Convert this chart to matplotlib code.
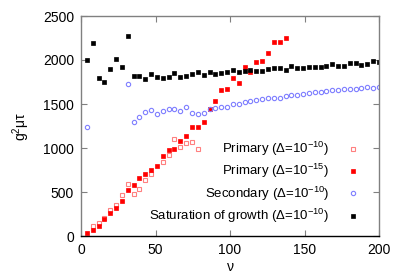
import numpy as np
import matplotlib
matplotlib.use("Agg")
import matplotlib.pyplot as plt

plt.rcParams['font.family'] = ['Liberation Sans', 'DejaVu Sans']
plt.rcParams['mathtext.fontset'] = 'custom'
plt.rcParams['mathtext.rm'] = 'Liberation Sans'
plt.rcParams['mathtext.it'] = 'Liberation Sans:italic'

nan = np.nan
nu = [3.92, 7.84, 11.76, 15.69, 19.61, 23.53, 27.45, 31.37, 35.29, 39.22,
      43.14, 47.06, 50.98, 54.9, 58.82, 62.75, 66.67, 70.59, 74.51, 78.43,
      82.35, 86.27, 90.2, 94.12, 98.04, 101.96, 105.88, 109.8, 113.73, 117.65,
      121.57, 125.49, 129.41, 133.33, 137.25, 141.18, 145.1, 149.02, 152.94, 156.86,
      160.78, 164.71, 168.63, 172.55, 176.47, 180.39, 184.31, 188.24, 192.16, 196.08,
      200.0]

primary_10 = [nan, 114, 148, 208, 300, 354, 470, 587, 481, 538,
              633, 699, nan, 839, 926, 1105, 1010, 1058, 1070, 990]

primary_15 = [34, 68, 117, 189, 265, 314, 401, 519, 583, 659,
              705, 750, 794, 908, 979, 984, 1078, 1134, 1239, 1239,
              1299, 1443, 1536, 1655, 1674, 1801, 1735, 1922, 1869, 1981,
              1994, 2076, 2201, 2201, 2246]

secondary_10 = [1242, nan, nan, nan, nan, nan, nan, 1731, 1299, 1356,
                1409, 1432, 1382, 1426, 1445, 1445, 1422, 1462, 1398, 1385,
                1394, 1443, 1458, 1466, 1470, 1496, 1504, 1523, 1530, 1549,
                1560, 1568, 1572, 1572, 1587, 1606, 1602, 1617, 1625, 1632,
                1640, 1648, 1659, 1655, 1670, 1670, 1670, 1685, 1689, 1685,
                1697]

saturation = [2000, 2197, 1792, 1746, 1901, 2015, 1920, 2276, 1818, 1818,
              1784, 1841, 1810, 1799, 1807, 1856, 1807, 1822, 1845, 1867,
              1833, 1864, 1845, 1848, 1867, 1890, 1860, 1871, 1886, 1879,
              1871, 1901, 1909, 1909, 1890, 1932, 1913, 1905, 1924, 1924,
              1917, 1932, 1955, 1932, 1932, 1966, 1966, 1939, 1958, 1992,
              1974]

labels = [r"Primary (Δ=10$^{\mathregular{-10}}$)",
          r"Primary (Δ=10$^{\mathregular{-15}}$)",
          r"Secondary (Δ=10$^{\mathregular{-10}}$)",
          r"Saturation of growth (Δ=10$^{\mathregular{-10}}$)"]

fig = plt.figure(figsize=(3.99, 2.79), dpi=100)
ax = fig.add_axes([81/399, 1-236/279, (379-81)/399, (236-16)/279])

ms = 3.3
ax.plot(nu[:len(primary_10)], primary_10, ls='none', marker='s', ms=ms,
        mfc='none', mec='#ff8080', mew=0.8, label=labels[0])
ax.plot(nu[:len(primary_15)], primary_15, ls='none', marker='s', ms=ms,
        mfc='#ff0000', mec='#ff0000', mew=0.5, label=labels[1])
ax.plot(nu[:len(secondary_10)], secondary_10, ls='none', marker='o', ms=3.1,
        mfc='none', mec='#7f7fff', mew=0.8, label=labels[2])
ax.plot(nu, saturation, ls='none', marker='s', ms=ms,
        mfc='black', mec='black', mew=0.5, label=labels[3])

ax.set_xlim(0, 200)
ax.set_ylim(0, 2500)
ax.set_xticks([0, 50, 100, 150, 200])
ax.set_yticks([0, 500, 1000, 1500, 2000, 2500])
ax.tick_params(direction='in', length=4, width=0.8, color='#808080',
               top=True, right=True, labelsize=10, pad=5)
for s in ax.spines.values():
    s.set_color('#808080')
    s.set_linewidth(1.0)
ax.spines['bottom'].set_color('black')

ax.set_xlabel("ν", fontsize=10, labelpad=2)
ax.set_ylabel(r"g$^{\mathregular{2}}$μτ", fontsize=10, labelpad=8)

leg = ax.legend(loc='upper right', bbox_to_anchor=(0.952, 0.46), frameon=False,
                markerfirst=False, fontsize=9.5, handlelength=1.0,
                handletextpad=1.3, labelspacing=0.3, borderaxespad=0,
                handleheight=0.5)

fig.savefig("out.png", dpi=100)
